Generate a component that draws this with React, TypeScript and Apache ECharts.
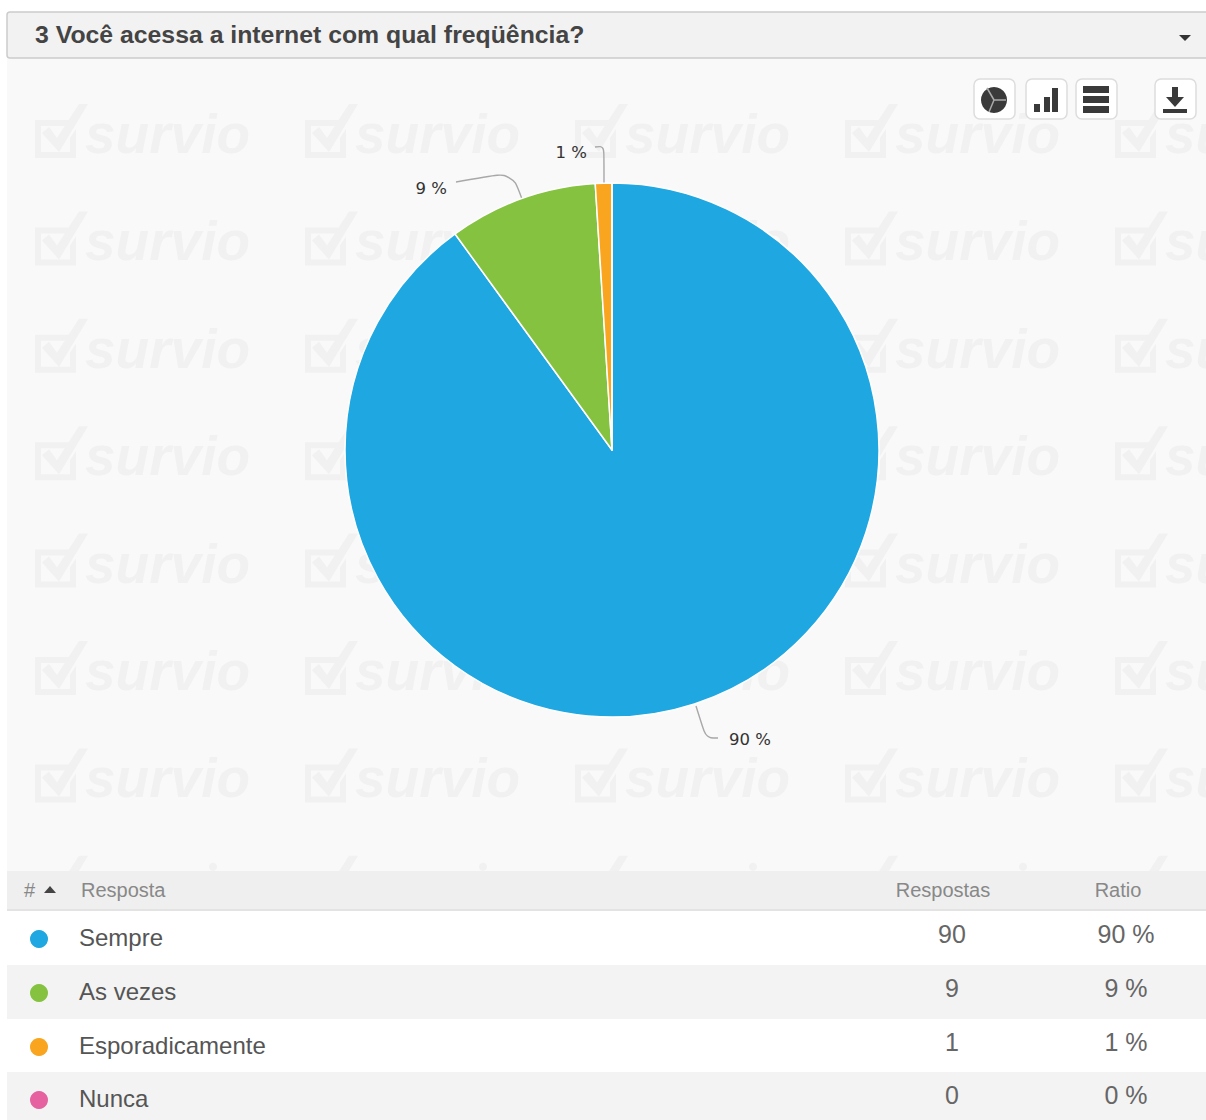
import React, { useEffect, useRef } from "react";
import * as echarts from "echarts";

const questionTitle = "3 Você acessa a internet com qual freqüência?";
const answers = ["Sempre", "As vezes", "Esporadicamente", "Nunca"];
const responses = [90, 9, 1, 0];
const ratios = ["90 %", "9 %", "1 %", "0 %"];
const sliceColors = ["#1FA7E1", "#85C240", "#F9A51F", "#E5619F"];
const tableHeaders = ["Resposta", "Respostas", "Ratio"];

const tickPath =
  "M0 16 H34 L30 22 H6 V48 H35 V34 L41 25 V54 H0 Z M7 29 L14 23 L22 34 L44 0 L53 0 L24 48 Z";
echarts.graphic.registerShape("surveyTick", echarts.graphic.extendPath(tickPath, {}));

function watermark(): any[] {
  const items: any[] = [];
  for (let col = 0; col < 5; col++) {
    for (let row = 0; row < 8; row++) {
      const x = 35 + col * 270;
      const y = 104 + row * 107.4;
      items.push({ type: "surveyTick", x, y, z: 1, style: { fill: "#f1f1f1" } });
      if (row === 7) {
        // Only the tops of the last row show above the table header.
        items.push({ type: "circle", z: 1, shape: { cx: x + 178, cy: y + 11, r: 4 }, style: { fill: "#f1f1f1" } });
        continue;
      }
      items.push({
        type: "text",
        x: x + 50,
        y: y + 30,
        z: 1,
        style: {
          text: "survio",
          fill: "#f1f1f1",
          font: "italic bold 55px 'Liberation Sans'",
          textVerticalAlign: "middle",
        },
      });
    }
  }
  return items;
}

function tableRows(): any[] {
  const items: any[] = [];
  const tops = [911, 965, 1019, 1072];
  const bottoms = [965, 1019, 1072, 1120];
  const answerFont = "24px 'Liberation Sans'";
  const numberFont = "25px 'Liberation Sans'";
  const headFont = "20px 'Liberation Sans'";
  items.push({ type: "rect", z: 5, shape: { x: 7, y: 871, width: 1199, height: 40 }, style: { fill: "#efefef" } });
  items.push({ type: "rect", z: 6, shape: { x: 7, y: 909, width: 1199, height: 2 }, style: { fill: "#e3e3e3" } });
  items.push({ type: "text", x: 24, y: 890, z: 7, style: { text: "#", fill: "#888", font: headFont, textVerticalAlign: "middle" } });
  items.push({ type: "polygon", z: 7, shape: { points: [[44, 893], [56, 893], [50, 886]] }, style: { fill: "#444" } });
  items.push({ type: "text", x: 81, y: 890, z: 7, style: { text: tableHeaders[0], fill: "#888", font: headFont, textVerticalAlign: "middle" } });
  items.push({ type: "text", x: 943, y: 890, z: 7, style: { text: tableHeaders[1], fill: "#888", font: headFont, textAlign: "center", textVerticalAlign: "middle" } });
  items.push({ type: "text", x: 1118, y: 890, z: 7, style: { text: tableHeaders[2], fill: "#888", font: headFont, textAlign: "center", textVerticalAlign: "middle" } });
  answers.forEach((answer, i) => {
    const top = tops[i];
    const mid = top + 27;
    items.push({
      type: "rect",
      z: 5,
      shape: { x: 7, y: top, width: 1199, height: bottoms[i] - top },
      style: { fill: i % 2 ? "#f3f3f3" : "#ffffff" },
    });
    items.push({ type: "circle", z: 7, shape: { cx: 39, cy: mid + 1, r: 9 }, style: { fill: sliceColors[i] } });
    items.push({ type: "text", x: 79, y: mid - 1, z: 7, style: { text: answer, fill: "#555", font: answerFont, textVerticalAlign: "middle" } });
    items.push({ type: "text", x: 952, y: mid - 4, z: 7, style: { text: String(responses[i]), fill: "#666", font: numberFont, textAlign: "center", textVerticalAlign: "middle" } });
    items.push({ type: "text", x: 1126, y: mid - 4, z: 7, style: { text: ratios[i], fill: "#666", font: numberFont, textAlign: "center", textVerticalAlign: "middle" } });
  });
  return items;
}

function iconButton(x: number): any {
  return {
    type: "rect",
    z: 3,
    shape: { x, y: 79, width: 41, height: 40, r: 6 },
    style: { fill: "#ffffff", stroke: "#dddddd", lineWidth: 1.5 },
  };
}

function toolbar(): any[] {
  const ink = "#3a3a3a";
  const bar = (x: number, y: number, width: number, height: number) => ({
    type: "rect",
    z: 4,
    shape: { x, y, width, height },
    style: { fill: ink },
  });
  const spoke = (x2: number, y2: number) => ({
    type: "line",
    z: 5,
    shape: { x1: 994, y1: 100, x2, y2 },
    style: { stroke: "#aaaaaa", lineWidth: 1.5 },
  });
  return [
    iconButton(974),
    iconButton(1026),
    iconButton(1076),
    iconButton(1155),
    { type: "circle", z: 4, shape: { cx: 994, cy: 100, r: 13 }, style: { fill: ink } },
    spoke(987, 88),
    spoke(1006, 100),
    spoke(989, 112),
    bar(1034, 104, 6, 8),
    bar(1044, 97, 6, 15),
    bar(1052, 88, 6, 24),
    bar(1083, 86, 26, 7),
    bar(1083, 96, 26, 7),
    bar(1083, 106, 26, 7),
    bar(1172, 87, 6, 12),
    { type: "polygon", z: 4, shape: { points: [[1166, 97], [1184, 97], [1175, 107]] }, style: { fill: ink } },
    bar(1163, 109, 24, 4),
  ];
}

function header(): any[] {
  return [
    { type: "rect", z: 0, shape: { x: 7, y: 58, width: 1199, height: 813 }, style: { fill: "#f9f9f9" } },
    {
      type: "rect",
      z: 2,
      shape: { x: 7, y: 12, width: 1210, height: 46, r: 3 },
      style: { fill: "#f2f2f2", stroke: "#cccccc", lineWidth: 1.5 },
    },
    {
      type: "text",
      x: 35,
      y: 34,
      z: 3,
      style: {
        text: questionTitle,
        fill: "#444444",
        font: "bold 24.8px 'Liberation Sans'",
        textVerticalAlign: "middle",
      },
    },
    { type: "polygon", z: 3, shape: { points: [[1179, 35], [1191, 35], [1185, 41]] }, style: { fill: "#333" } },
  ];
}

export default function App() {
  const ref = useRef<HTMLDivElement>(null);

  useEffect(() => {
    const chart = echarts.init(ref.current!, undefined, { renderer: "svg" });
    chart.setOption({
      animation: false,
      backgroundColor: "#ffffff",
      graphic: { elements: [...header(), ...watermark(), ...toolbar(), ...tableRows()] },
      series: [
        {
          type: "pie",
          z: 2,
          center: [612, 450],
          radius: 267,
          startAngle: 90,
          clockwise: true,
          silent: true,
          data: answers.map((name, i) => ({
            name,
            value: responses[i],
            itemStyle: { color: sliceColors[i] },
            label: { show: responses[i] > 0 },
            labelLine: { show: responses[i] > 0 },
          })),
          itemStyle: { borderColor: "#ffffff", borderWidth: 1.5 },
          label: {
            formatter: "{c} %",
            fontFamily: "'DejaVu Sans'",
            fontSize: 16.5,
            color: "#333333",
          },
          labelLine: { smooth: 0.35, lineStyle: { color: "#a8a8a8", width: 1.4 } },
          labelLayout: (params: any) => {
            if (params.dataIndex === 0) {
              return {
                x: 729,
                y: 739,
                align: "left",
                verticalAlign: "middle",
                labelLinePoints: [[696, 706], [706, 738], [718, 738]],
              };
            }
            if (params.dataIndex === 1) {
              return {
                x: 447,
                y: 188,
                align: "right",
                verticalAlign: "middle",
                labelLinePoints: [[522, 199], [512, 172], [456, 182]],
              };
            }
            if (params.dataIndex === 2) {
              return {
                x: 587,
                y: 152,
                align: "right",
                verticalAlign: "middle",
                labelLinePoints: [[604, 183], [604, 146], [595, 147]],
              };
            }
            return {};
          },
        },
      ],
    });
    return () => chart.dispose();
  }, []);

  return <div ref={ref} style={{ position: "absolute", left: 0, top: 0, width: 1206, height: 1120 }} />;
}
